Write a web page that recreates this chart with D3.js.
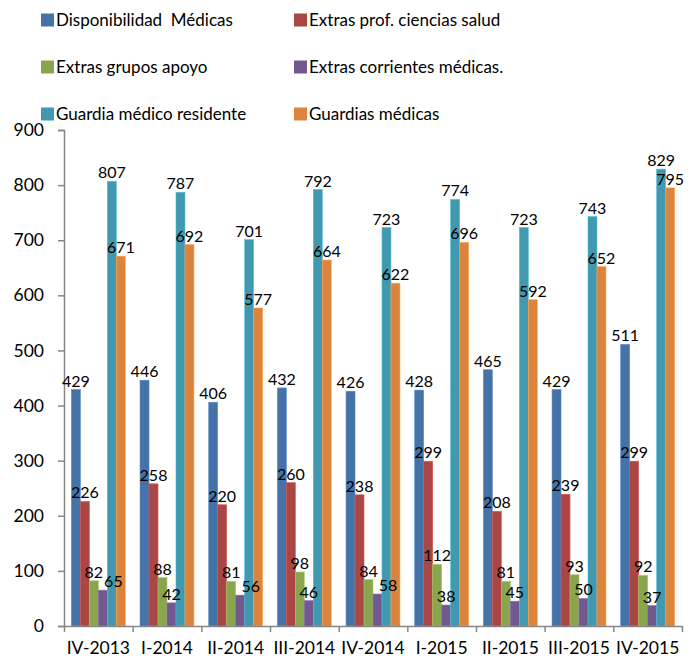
<!DOCTYPE html>
<html>
<head>
<meta charset="utf-8">
<script src="https://cdn.jsdelivr.net/npm/d3@7"></script>
<style>
  html, body { margin: 0; padding: 0; background: #fff; }
  svg { display: block; font-family: Lato, "Open Sans", sans-serif; }
  text { fill: #000; }
</style>
</head>
<body>
<svg id="chart" width="692" height="662"></svg>
<script>
const categories = ["IV-2013", "I-2014", "II-2014", "III-2014", "IV-2014", "I-2015", "II-2015", "III-2015", "IV-2015"];
const seriesNames = ["Disponibilidad  Médicas", "Extras prof. ciencias salud", "Extras grupos apoyo", "Extras corrientes médicas.", "Guardia médico residente", "Guardias médicas"];
const disponibilidad = [429, 446, 406, 432, 426, 428, 465, 429, 511];
const extrasProf = [226, 258, 220, 260, 238, 299, 208, 239, 299];
const extrasApoyo = [82, 88, 81, 98, 84, 112, 81, 93, 92];
const extrasCorrientes = [65, 42, 56, 46, 58, 38, 45, 50, 37];
const guardiaResidente = [807, 787, 701, 792, 723, 774, 723, 743, 829];
const guardiasMedicas = [671, 692, 577, 664, 622, 696, 592, 652, 795];
const yTicks = [0, 100, 200, 300, 400, 500, 600, 700, 800, 900];
const colors = ["#4572A7", "#AA4643", "#89A54E", "#71588F", "#4198AF", "#DB843D"];

const seriesValues = [disponibilidad, extrasProf, extrasApoyo, extrasCorrientes, guardiaResidente, guardiasMedicas];

const svg = d3.select("#chart");
const mLeft = 64, mRight = 682, mTop = 130, mBottom = 626;

const x = d3.scaleBand().domain(categories).range([mLeft, mRight]).paddingInner(0).paddingOuter(0);
const xs = d3.scaleBand().domain(d3.range(seriesNames.length)).range([0, x.bandwidth()]).paddingInner(0).paddingOuter(0.82);
const y = d3.scaleLinear().domain([0, 900]).range([mBottom, mTop]);
const axisColor = "#868686";

// Y axis
const yAxis = svg.append("g").attr("transform", `translate(${mLeft},0)`)
  .call(d3.axisLeft(y).tickValues(yTicks).tickSize(6).tickPadding(14).tickFormat(d3.format("d")));
yAxis.selectAll("text").attr("font-size", 17.5).attr("font-family", "Lato");
yAxis.selectAll("line, path").attr("stroke", axisColor).attr("stroke-width", 1.5);

// Bars
const rows = categories.map((c, i) => ({ cat: c, vals: seriesValues.map((s, k) => ({ k, v: s[i] })) }));
const groups = svg.append("g").selectAll("g").data(rows).join("g")
  .attr("transform", d => `translate(${x(d.cat)},0)`);
groups.selectAll("rect").data(d => d.vals).join("rect")
  .attr("x", d => xs(d.k))
  .attr("width", xs.bandwidth())
  .attr("y", d => y(d.v))
  .attr("height", d => y(0) - y(d.v))
  .attr("fill", d => colors[d.k])
  .attr("stroke", d => d3.color(colors[d.k]).brighter(0.6))
  .attr("stroke-width", 0.6);

// X axis: boundary ticks + labels
const xb = d3.scaleLinear().domain([0, categories.length]).range([mLeft, mRight]);
const xAxisB = svg.append("g").attr("transform", `translate(0,${mBottom})`)
  .call(d3.axisBottom(xb).tickValues(d3.range(categories.length + 1)).tickSize(6).tickSizeOuter(0).tickFormat(""));
xAxisB.selectAll("line, path").attr("stroke", axisColor).attr("stroke-width", 1.5);

const xAxisL = svg.append("g").attr("transform", `translate(0,${mBottom})`)
  .call(d3.axisBottom(x).tickSize(0).tickPadding(16));
xAxisL.select(".domain").remove();
xAxisL.selectAll("text").attr("font-size", 17.5).attr("font-family", "Lato");

// Data labels
groups.each(function(d) {
  const g = d3.select(this);
  let prev = null;
  d.vals.forEach(o => {
    const cx = xs(o.k) + xs.bandwidth() / 2;
    const by = y(o.v) - 3;
    const t = g.append("text")
      .attr("text-anchor", "middle")
      .attr("font-size", 16)
      .attr("x", cx).attr("y", by)
      .text(o.v);
    const w = t.node().getComputedTextLength();
    let l = cx - w / 2, r = cx + w / 2;
    const t0 = by - 16, b0 = by + 2;
    if (prev && l < prev.r && r > prev.l && t0 < prev.b && b0 > prev.t) {
      const shift = prev.r - l + 1;
      l += shift; r += shift;
      t.attr("x", cx + shift);
    }
    prev = { l, r, t: t0, b: b0 };
  });
});

// Legend
const legendPos = [[41, 20], [294, 20], [41, 67], [294, 67], [41, 114], [294, 114]];
const leg = svg.append("g").selectAll("g").data(seriesNames).join("g")
  .attr("transform", (d, i) => `translate(${legendPos[i][0]},${legendPos[i][1]})`);
leg.append("rect").attr("x", 0).attr("y", -6.5).attr("width", 13).attr("height", 13)
  .attr("fill", (d, i) => colors[i]);
leg.append("text").attr("x", 15).attr("y", 0).attr("dy", "0.35em")
  .attr("font-size", 17).style("white-space", "pre")
  .text(d => d);
</script>
</body>
</html>
